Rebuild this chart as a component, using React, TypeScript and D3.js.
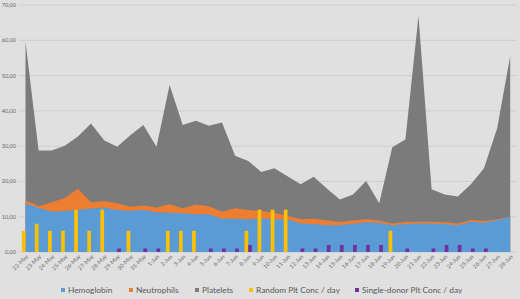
import React from "react";
import * as d3 from "d3";

const dates = [
  "22-May","23-May","24-May","25-May","26-May","27-May","28-May","29-May","30-May","31-May",
  "1-Jun","2-Jun","3-Jun","4-Jun","5-Jun","6-Jun","7-Jun","8-Jun","9-Jun","10-Jun",
  "11-Jun","12-Jun","13-Jun","14-Jun","15-Jun","16-Jun","17-Jun","18-Jun","19-Jun","20-Jun",
  "21-Jun","22-Jun","23-Jun","24-Jun","25-Jun","26-Jun","27-Jun","28-Jun",
];

const hemoglobin = [
  13.8, 12.5, 11.5, 11.6, 12.0, 12.3, 12.6, 11.9, 11.7, 11.9,
  11.3, 11.1, 11.0, 10.7, 10.7, 9.4, 9.4, 9.3, 9.5, 9.3,
  9.3, 8.1, 7.9, 7.6, 7.6, 8.0, 8.4, 8.3, 7.6, 7.9,
  8.1, 8.1, 7.9, 7.6, 8.6, 8.3, 9.1, 9.9,
];

const neutrophils = [
  14.7, 13.0, 14.1, 15.3, 17.9, 14.1, 14.4, 13.8, 12.8, 13.2,
  12.6, 13.5, 12.4, 13.4, 13.0, 11.4, 12.4, 11.9, 11.6, 11.1,
  10.2, 9.3, 9.4, 8.9, 8.5, 8.9, 9.3, 8.9, 8.1, 8.5,
  8.6, 8.6, 8.4, 8.1, 9.1, 8.8, 9.3, 10.0,
];

const platelets = [
  59.5, 28.8, 28.8, 30.1, 32.7, 36.4, 31.7, 29.8, 33.1, 36.0,
  29.8, 47.3, 36.0, 37.2, 35.8, 36.7, 27.3, 25.8, 22.7, 23.7,
  21.5, 19.2, 21.3, 18.0, 14.9, 16.3, 20.1, 13.8, 29.7, 31.9,
  66.9, 17.8, 16.3, 15.7, 19.2, 23.7, 35.0, 55.5,
];

const randomPlt = [
  6, 8, 6, 6, 12, 6, 12, 0, 6, 0,
  0, 6, 6, 6, 0, 0, 0, 6, 12, 12,
  12, 0, 0, 0, 0, 0, 0, 0, 6, 0,
  0, 0, 0, 0, 0, 0, 0, 0,
];

const singlePlt = [
  0, 0, 0, 0, 0, 0, 0, 1, 0, 1,
  1, 0, 0, 0, 1, 1, 1, 2, 0, 0,
  0, 1, 1, 2, 2, 2, 2, 2, 0, 1,
  0, 1, 2, 2, 1, 1, 0, 0,
];

const yTicks = [0, 10, 20, 30, 40, 50, 60, 70];

const legendItems = [
  { label: "Hemoglobin", color: "#5b9bd5", x: 61 },
  { label: "Neutrophils", color: "#ed7d31", x: 129 },
  { label: "Platelets", color: "#7b7b7b", x: 195 },
  { label: "Random Plt Conc / day", color: "#ffc000", x: 249 },
  { label: "Single-donor Plt Conc / day", color: "#7030a0", x: 355 },
];

export default function App() {
  const W = 520, H = 299;
  const x = d3.scaleBand<string>().domain(dates).range([18.95, 516.75]).padding(0);
  const cx = (i: number) => (x(dates[i]) as number) + x.bandwidth() / 2;
  const y = d3.scaleLinear().domain([0, 70]).range([252, 5]);
  const inner = d3.scaleBand<string>().domain(["r", "s"]).range([-3.7, 3.7]).padding(0);

  const areaGen = (vals: number[]) =>
    d3.area<number>()
      .x((_, i) => cx(i))
      .y0(y(0))
      .y1((v) => y(v))(vals) as string;

  const font = "Lato, 'Open Sans', sans-serif";

  return (
    <svg width={W} height={H} style={{ position: "absolute", left: 0, top: 0, background: "#e0e0e0" }}>
      <rect x={0} y={0} width={W} height={H} fill="#e0e0e0" />
      {yTicks.map((t) => (
        <g key={t}>
          <line x1={18.95} x2={516.75} y1={y(t)} y2={y(t)} stroke="#c9c9c9" strokeWidth={0.8} />
          <text x={16} y={y(t) + 2} fontSize={5.6} textAnchor="end" fill="#6a6a6a" fontFamily={font}>
            {t.toFixed(2).replace(".", ",")}
          </text>
        </g>
      ))}
      <path d={areaGen(platelets)} fill="#7b7b7b" />
      <path d={areaGen(neutrophils)} fill="#ed7d31" />
      <path d={areaGen(hemoglobin)} fill="#5b9bd5" />
      {randomPlt.map((v, i) =>
        v > 0 ? (
          <rect key={"r" + i} x={cx(i) + (inner("r") as number)} width={inner.bandwidth()}
            y={y(v)} height={y(0) - y(v)} fill="#ffc000" />
        ) : null
      )}
      {singlePlt.map((v, i) =>
        v > 0 ? (
          <rect key={"s" + i} x={cx(i) + (inner("s") as number)} width={inner.bandwidth()}
            y={y(v)} height={y(0) - y(v)} fill="#7030a0" />
        ) : null
      )}
      {dates.map((d, i) => (
        <text key={d} transform={`translate(${cx(i) + 3},${257}) rotate(-45)`} fontSize={5.6}
          textAnchor="end" fill="#6a6a6a" fontFamily={font}>
          {d}
        </text>
      ))}
      {legendItems.map((it) => (
        <g key={it.label}>
          <rect x={it.x} y={288} width={4} height={4} fill={it.color} />
          <text x={it.x + 7} y={292.5} fontSize={8.3} fill="#595959" fontFamily={font}>
            {it.label}
          </text>
        </g>
      ))}
    </svg>
  );
}
